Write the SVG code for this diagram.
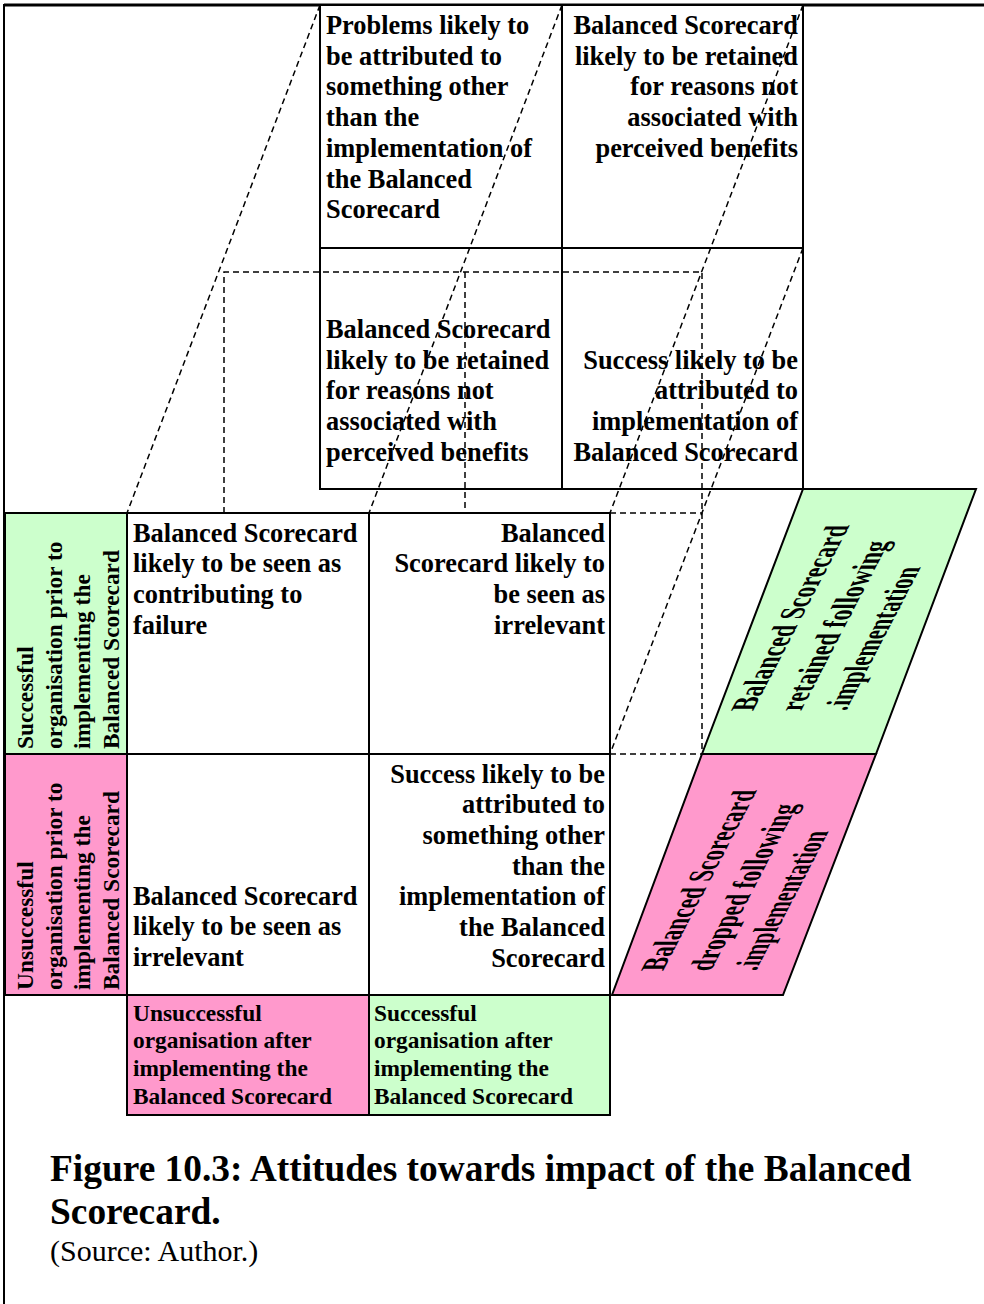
<svg xmlns="http://www.w3.org/2000/svg" width="984" height="1304" viewBox="0 0 984 1304">
  <style>
    .cell { fill: #ffffff; stroke: #000000; stroke-width: 2; }
    .green { fill: #ccffcc; stroke: #000000; stroke-width: 2; }
    .pink { fill: #ff99cc; stroke: #000000; stroke-width: 2; }
    .hidden { fill: none; stroke: #000000; stroke-width: 1.5; stroke-dasharray: 6 4; }
    .t { font-family: "Liberation Serif", "Times New Roman", serif; font-weight: bold; font-size: 26.4px; fill: #000000; }
    .end { text-anchor: end; }
    .lab { font-family: "Liberation Serif", "Times New Roman", serif; font-weight: bold; font-size: 23.4px; fill: #000000; }
    .slant { font-family: "Liberation Serif", "Times New Roman", serif; font-weight: bold; font-size: 34px; fill: #000000; }
    .cap { font-family: "Liberation Serif", "Times New Roman", serif; font-weight: bold; font-size: 37.4px; fill: #000000; }
    .src { font-family: "Liberation Serif", "Times New Roman", serif; font-size: 30px; fill: #000000; }
  </style>

  <rect x="0" y="0" width="984" height="1304" fill="#ffffff"/>

  <!-- page frame -->
  <g id="frame">
    <line x1="4" y1="5" x2="984" y2="5" stroke="#000" stroke-width="3"/>
    <line x1="4" y1="4" x2="4" y2="1304" stroke="#000" stroke-width="2"/>
  </g>

  <!-- back layer: four quadrants -->
  <g id="back-problems">
    <rect class="cell" x="320" y="5" width="242" height="243"/>
    <text class="t"><tspan x="326" y="34">Problems likely to</tspan><tspan x="326" y="64.7">be attributed to</tspan><tspan x="326" y="95.4">something other</tspan><tspan x="326" y="126.1">than the</tspan><tspan x="326" y="156.8">implementation of</tspan><tspan x="326" y="187.5">the Balanced</tspan><tspan x="326" y="218.2">Scorecard</tspan></text>
  </g>
  <g id="back-retained-top">
    <rect class="cell" x="562" y="5" width="241" height="243"/>
    <text class="t end"><tspan x="798" y="34">Balanced Scorecard</tspan><tspan x="798" y="64.7">likely to be retained</tspan><tspan x="798" y="95.4">for reasons not</tspan><tspan x="798" y="126.1">associated with</tspan><tspan x="798" y="156.8">perceived benefits</tspan></text>
  </g>
  <g id="back-retained-bottom">
    <rect class="cell" x="320" y="248" width="242" height="241"/>
    <text class="t"><tspan x="326" y="338">Balanced Scorecard</tspan><tspan x="326" y="368.7">likely to be retained</tspan><tspan x="326" y="399.4">for reasons not</tspan><tspan x="326" y="430.1">associated with</tspan><tspan x="326" y="460.8">perceived benefits</tspan></text>
  </g>
  <g id="back-success">
    <rect class="cell" x="562" y="248" width="241" height="241"/>
    <text class="t end"><tspan x="798" y="368.5">Success likely to be</tspan><tspan x="798" y="399.2">attributed to</tspan><tspan x="798" y="429.9">implementation of</tspan><tspan x="798" y="460.6">Balanced Scorecard</tspan></text>
  </g>

  <!-- front layer: four quadrants -->
  <g id="front-failure">
    <rect class="cell" x="127" y="513" width="242" height="241"/>
    <text class="t"><tspan x="133" y="541.5">Balanced Scorecard</tspan><tspan x="133" y="572.2">likely to be seen as</tspan><tspan x="133" y="602.9">contributing to</tspan><tspan x="133" y="633.6">failure</tspan></text>
  </g>
  <g id="front-irrelevant-top">
    <rect class="cell" x="369" y="513" width="241" height="241"/>
    <text class="t end"><tspan x="605" y="541.5">Balanced</tspan><tspan x="605" y="572.2">Scorecard likely to</tspan><tspan x="605" y="602.9">be seen as</tspan><tspan x="605" y="633.6">irrelevant</tspan></text>
  </g>
  <g id="front-irrelevant-bottom">
    <rect class="cell" x="127" y="754" width="242" height="241"/>
    <text class="t"><tspan x="133" y="904.5">Balanced Scorecard</tspan><tspan x="133" y="935.2">likely to be seen as</tspan><tspan x="133" y="965.9">irrelevant</tspan></text>
  </g>
  <g id="front-success">
    <rect class="cell" x="369" y="754" width="241" height="241"/>
    <text class="t end"><tspan x="605" y="782.5">Success likely to be</tspan><tspan x="605" y="813.2">attributed to</tspan><tspan x="605" y="843.9">something other</tspan><tspan x="605" y="874.6">than the</tspan><tspan x="605" y="905.3">implementation of</tspan><tspan x="605" y="936">the Balanced</tspan><tspan x="605" y="966.7">Scorecard</tspan></text>
  </g>

  <!-- row headings (rotated) -->
  <g id="row-successful">
    <rect class="green" x="5" y="513" width="122" height="241"/>
    <g transform="translate(0,749) rotate(-90)">
      <text class="lab"><tspan x="0" y="33">Successful</tspan><tspan x="0" y="61.7">organisation prior to</tspan><tspan x="0" y="90.4">implementing the</tspan><tspan x="0" y="119.1">Balanced Scorecard</tspan></text>
    </g>
  </g>
  <g id="row-unsuccessful">
    <rect class="pink" x="5" y="754" width="122" height="241"/>
    <g transform="translate(0,990) rotate(-90)">
      <text class="lab"><tspan x="0" y="33">Unsuccessful</tspan><tspan x="0" y="61.7">organisation prior to</tspan><tspan x="0" y="90.4">implementing the</tspan><tspan x="0" y="119.1">Balanced Scorecard</tspan></text>
    </g>
  </g>

  <!-- column headings -->
  <g id="col-unsuccessful">
    <rect class="pink" x="127" y="995" width="242" height="120"/>
    <text class="lab"><tspan x="133" y="1020.5">Unsuccessful</tspan><tspan x="133" y="1048.3">organisation after</tspan><tspan x="133" y="1076.1">implementing the</tspan><tspan x="133" y="1103.9">Balanced Scorecard</tspan></text>
  </g>
  <g id="col-successful">
    <rect class="green" x="369" y="995" width="241" height="120"/>
    <text class="lab"><tspan x="374" y="1020.5">Successful</tspan><tspan x="374" y="1048.3">organisation after</tspan><tspan x="374" y="1076.1">implementing the</tspan><tspan x="374" y="1103.9">Balanced Scorecard</tspan></text>
  </g>

  <!-- depth headings (slanted faces, condensed text) -->
  <g id="depth-retained">
    <polygon class="green" points="803,489 976,489 876,754 702,754"/>
    <g transform="translate(753,711) skewX(-27.5) rotate(-90)">
      <text class="slant" x="0" y="0" textLength="186" lengthAdjust="spacingAndGlyphs">Balanced Scorecard</text>
      <text class="slant" x="0" y="48" textLength="170" lengthAdjust="spacingAndGlyphs">retained following</text>
      <text class="slant" x="0" y="93" textLength="144" lengthAdjust="spacingAndGlyphs">.implementation</text>
    </g>
  </g>
  <g id="depth-dropped">
    <polygon class="pink" points="702,754 876,754 783,995 612,995"/>
    <g transform="translate(663,971) skewX(-27.5) rotate(-90)">
      <text class="slant" x="0" y="0" textLength="181" lengthAdjust="spacingAndGlyphs">Balanced Scorecard</text>
      <text class="slant" x="0" y="48" textLength="167" lengthAdjust="spacingAndGlyphs">dropped following</text>
      <text class="slant" x="0" y="93" textLength="140" lengthAdjust="spacingAndGlyphs">.implementation</text>
    </g>
  </g>

  <!-- hidden edges of the cube -->
  <g id="connectors">
    <line class="hidden" x1="320" y1="5" x2="127" y2="513"/>
    <line class="hidden" x1="562" y1="5" x2="369" y2="513"/>
    <line class="hidden" x1="803" y1="5" x2="610" y2="513"/>
    <line class="hidden" x1="803" y1="248" x2="610" y2="754"/>
    <polyline class="hidden" points="224,513 224,272 702,272 702,754"/>
    <line class="hidden" x1="465" y1="272" x2="465" y2="513"/>
    <line class="hidden" x1="610" y1="513" x2="702" y2="513"/>
    <line class="hidden" x1="610" y1="754" x2="702" y2="754"/>
  </g>

  <!-- caption -->
  <g id="caption">
    <text class="cap"><tspan x="50" y="1181">Figure 10.3: Attitudes towards impact of the Balanced</tspan><tspan x="50" y="1224">Scorecard.</tspan></text>
    <text class="src" x="50" y="1261">(Source: Author.)</text>
  </g>
</svg>
